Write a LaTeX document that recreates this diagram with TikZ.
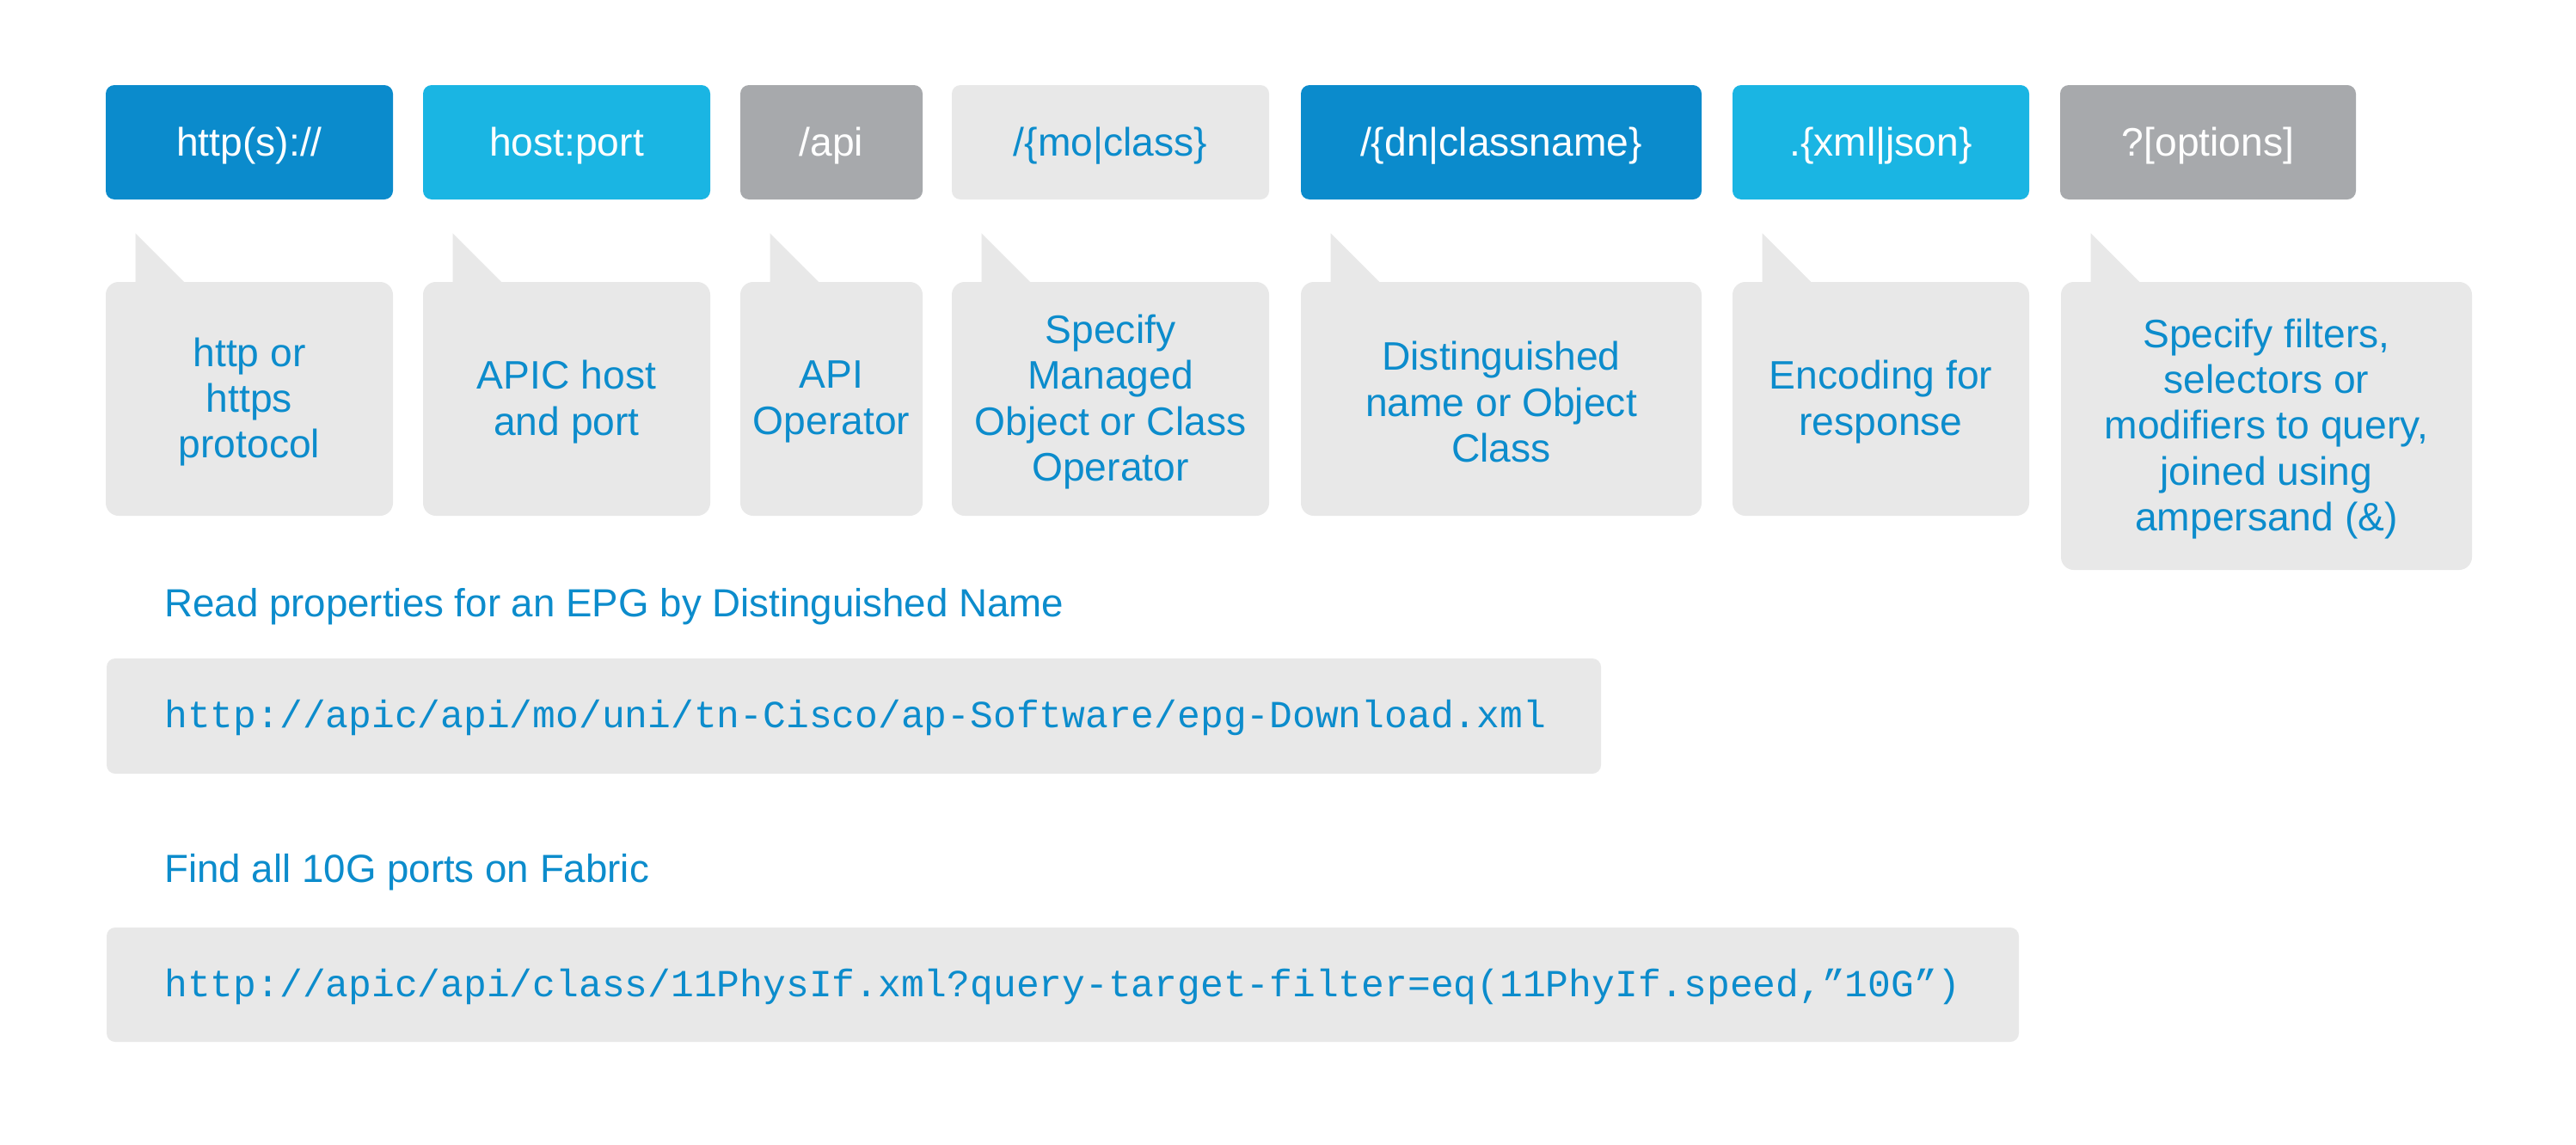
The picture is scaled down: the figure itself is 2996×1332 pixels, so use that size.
\documentclass[tikz,border=0pt]{standalone}
\usepackage{fontspec}
\setmainfont{Liberation Sans}
\newfontfamily\codefont{Liberation Mono}
\definecolor{dblue}{RGB}{11,139,204}
\definecolor{lblue}{RGB}{26,181,227}
\definecolor{mgray}{RGB}{167,169,172}
\definecolor{lgray}{RGB}{232,232,232}
\definecolor{tblue}{RGB}{12,140,204}
\newcommand\tbox[6]{%
  \node[topbox,fill=#4,minimum width={(#3-#2)*0.02cm}] (#1) at ({(#2+#3)/2},165.5) {};
  \node[toptext,text=#5] (#1t) at ([yshift=-0.09cm]#1.center) {#6};}
\newcommand\callout[5]{%
  \node[callbox,minimum width={(#3-#2)*0.02cm},minimum height={(#4-328)*0.02cm}] (#1) at ({(#2+#3)/2},{(328+#4)/2}) {};
  \fill[lgray] ([xshift=0.7cm,yshift=-1pt]#1.north west) -- ++(0,-58) -- ++(58,58) -- cycle;
  \node[calltext] (#1t) at ([yshift=-0.07cm]#1.center) {#5};}
\begin{document}
\begin{tikzpicture}[x=0.02cm,y=-0.02cm,
  topbox/.style={rectangle,rounded corners=10*0.02cm,minimum height=133*0.02cm,inner sep=0pt},
  toptext/.style={inner sep=0pt,font=\fontsize{26.3}{31}\selectfont},
  callbox/.style={rectangle,rounded corners=15*0.02cm,fill=lgray,inner sep=0pt},
  calltext/.style={inner sep=0pt,align=center,text=tblue,font=\fontsize{26.3}{30.4}\selectfont},
  codebox/.style={rectangle,rounded corners=10*0.02cm,fill=lgray},
  heading/.style={anchor=base west,inner sep=0pt,text=tblue,font=\fontsize{26}{31}\selectfont},
  code/.style={anchor=west,inner sep=0pt,text=tblue,font=\codefont\fontsize{25.4}{30}\selectfont}]
\useasboundingbox[fill=white] (0,0) rectangle (2996,1332);
% top row
\tbox{t1}{123}{457}{dblue}{white}{http(s)://}
\tbox{t2}{492}{826}{lblue}{white}{host:port}
\tbox{t3}{861}{1073}{mgray}{white}{/api}
\tbox{t4}{1107}{1476}{lgray}{tblue}{/\{mo|class\}}
\tbox{t5}{1513}{1979}{dblue}{white}{/\{dn|classname\}}
\tbox{t6}{2015}{2360}{lblue}{white}{.\{xml|json\}}
\tbox{t7}{2396}{2740}{mgray}{white}{?[options]}
% callouts
\callout{c1}{123}{457}{600}{http or\\https\\protocol}
\callout{c2}{492}{826}{600}{APIC host\\and port}
\callout{c3}{861}{1073}{600}{API\\Operator}
\callout{c4}{1107}{1476}{600}{Specify\\Managed\\Object or Class\\Operator}
\callout{c5}{1513}{1979}{600}{Distinguished\\name or Object\\Class}
\callout{c6}{2015}{2360}{600}{Encoding for\\response}
\callout{c7}{2397}{2875}{663}{Specify filters,\\selectors or\\modifiers to query,\\joined using\\ampersand (\&)}
% examples
\node[heading] (h1) at (191,717) {Read properties for an EPG by Distinguished Name};
\path[codebox] (124,766) rectangle (1862,900);
\node[code] (e1) at (191,835) {http://apic/api/mo/uni/tn-Cisco/ap-Software/epg-Download.xml};
\node[heading] (h2) at (191,1026) {Find all 10G ports on Fabric};
\path[codebox] (124,1079) rectangle (2348,1212);
\node[code] (e2) at (191,1148) {http://apic/api/class/11PhysIf.xml?query-target-filter=eq(11PhyIf.speed,”10G”)};
\end{tikzpicture}
\end{document}
